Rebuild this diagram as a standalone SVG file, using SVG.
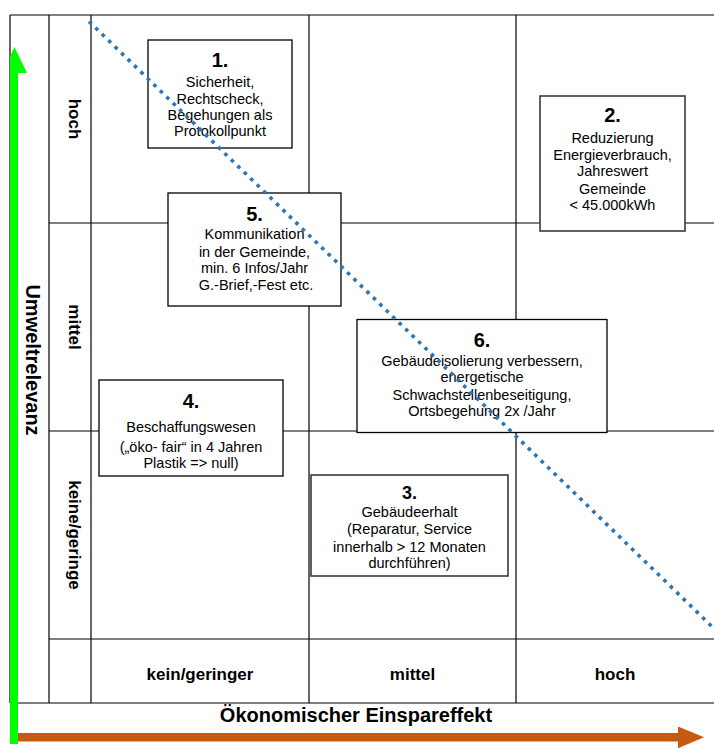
<svg xmlns="http://www.w3.org/2000/svg" width="714" height="749" viewBox="0 0 714 749">
<style>
  text { font-family: "Liberation Sans", Arial, sans-serif; fill: #000; }
  .grid line { stroke: #000; stroke-width: 1.2; }
  .box { fill: #fff; stroke: #000; stroke-width: 1.3; }
  .box2 { fill: #fff; stroke: #3a3a3a; stroke-width: 1.6; }
  .num { font-size: 20px; font-weight: bold; text-anchor: middle; }
  .t { font-size: 14.5px; text-anchor: middle; }
  .lab { font-size: 17px; font-weight: bold; text-anchor: middle; }
  .axis { font-size: 20px; font-weight: bold; text-anchor: middle; }
</style>
<rect width="714" height="749" fill="#fff"/>
<g id="grid" class="grid">
  <line x1="10" y1="15" x2="714" y2="15"/>
  <line x1="49" y1="223" x2="714" y2="223"/>
  <line x1="49" y1="431" x2="714" y2="431"/>
  <line x1="49" y1="639" x2="714" y2="639"/>
  <line x1="10" y1="703" x2="714" y2="703"/>
  <line x1="10" y1="15" x2="10" y2="703"/>
  <line x1="49" y1="15" x2="49" y2="703"/>
  <line x1="91" y1="15" x2="91" y2="703"/>
  <line x1="309" y1="15" x2="309" y2="703"/>
  <line x1="516" y1="15" x2="516" y2="703"/>
</g>
<g id="row-labels">
  <text class="lab" transform="translate(69,119) rotate(90)">hoch</text>
  <text class="lab" transform="translate(69,327) rotate(90)">mittel</text>
  <text class="lab" transform="translate(69,535) rotate(90)">keine/geringe</text>
</g>
<g id="col-labels">
  <text class="lab" x="200" y="680">kein/geringer</text>
  <text class="lab" x="412.5" y="680">mittel</text>
  <text class="lab" x="615" y="680">hoch</text>
</g>
<g id="axis-y">
  <rect x="10" y="72" width="8" height="672" fill="#00ff00"/>
  <polygon points="10,73 27,73 14.5,47 10,56.4" fill="#00ff00"/>
  <text class="axis" transform="translate(26,360) rotate(90)">Umweltrelevanz</text>
</g>
<g id="axis-x">
  <rect x="18" y="733" width="662" height="8.5" fill="#c55a11"/>
  <polygon points="678,726.5 704,737.3 678,748.3" fill="#c55a11"/>
  <text class="axis" x="356" y="722">Ökonomischer Einspareffekt</text>
</g>
<g id="node1">
  <rect class="box" x="148" y="40" width="144" height="108"/>
  <text class="num" x="220" y="67">1.</text>
  <text class="t" x="220" y="87">Sicherheit,</text>
  <text class="t" x="220" y="103.5">Rechtscheck,</text>
  <text class="t" x="220" y="120">Begehungen als</text>
  <text class="t" x="220" y="136">Protokollpunkt</text>
</g>
<g id="node2">
  <rect class="box2" x="540" y="96" width="145" height="135"/>
  <text class="num" x="612.5" y="122">2.</text>
  <text class="t" x="612.5" y="142.5">Reduzierung</text>
  <text class="t" x="612.5" y="159.5">Energieverbrauch,</text>
  <text class="t" x="612.5" y="176">Jahreswert</text>
  <text class="t" x="612.5" y="193.5">Gemeinde</text>
  <text class="t" x="612.5" y="210">&lt; 45.000kWh</text>
</g>
<g id="node5">
  <rect class="box" x="168" y="193" width="173" height="113"/>
  <text class="num" x="254.5" y="221">5.</text>
  <text class="t" x="254.5" y="239">Kommunikation</text>
  <text class="t" x="254.5" y="256.5">in der Gemeinde,</text>
  <text class="t" x="254.5" y="273">min. 6 Infos/Jahr</text>
  <text class="t" x="256" y="290">G.-Brief,-Fest etc.</text>
</g>
<g id="node4">
  <rect class="box" x="99" y="380" width="184" height="96"/>
  <text class="num" x="191" y="408">4.</text>
  <text class="t" x="191" y="432">Beschaffungswesen</text>
  <text class="t" x="191" y="452">(„öko- fair“ in 4 Jahren</text>
  <text class="t" x="191" y="468">Plastik =&gt; null)</text>
</g>
<g id="node6">
  <rect class="box" x="357" y="319.5" width="250" height="113"/>
  <text class="num" x="482" y="346.5">6.</text>
  <text class="t" x="482" y="365.5">Gebäudeisolierung verbessern,</text>
  <text class="t" x="482" y="382">energetische</text>
  <text class="t" x="482" y="399.5">Schwachstellenbeseitigung,</text>
  <text class="t" x="482" y="415.5">Ortsbegehung 2x /Jahr</text>
</g>
<g id="node3">
  <rect class="box2" x="311" y="475" width="197" height="101"/>
  <text class="num" x="409.5" y="499" style="font-size:18px">3.</text>
  <text class="t" x="409.5" y="517">Gebäudeerhalt</text>
  <text class="t" x="409.5" y="534">(Reparatur, Service</text>
  <text class="t" x="409.5" y="551.5">innerhalb &gt; 12 Monaten</text>
  <text class="t" x="409.5" y="568">durchführen)</text>
</g>
<g id="connectors">
  <line x1="89" y1="21.5" x2="714" y2="628.5" stroke="#2e75b6" stroke-width="3.6" stroke-dasharray="3.6 5.4"/>
</g>
</svg>
